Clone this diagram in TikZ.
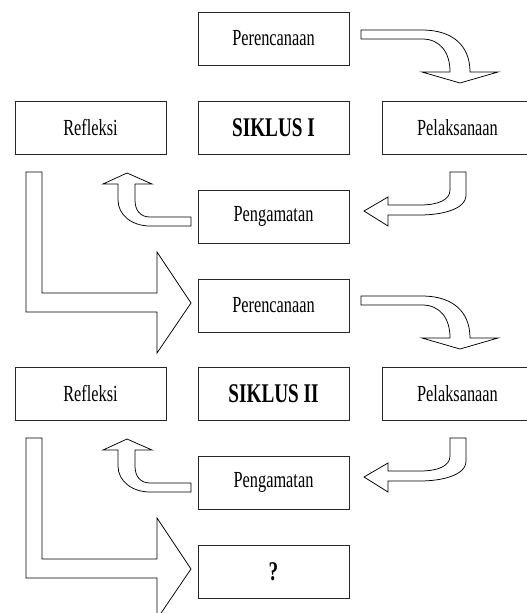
\documentclass[tikz,border=0pt]{standalone}
\usepackage{fontspec}
\newfontfamily\boxfont{Liberation Serif}[FakeStretch=0.71]
\begin{document}
\begin{tikzpicture}[x=1pt,y=-1pt,
  box/.style={draw=black!85,line width=0.9pt,minimum width=151pt,minimum height=53pt,inner sep=0pt,
    font=\boxfont\fontsize{23}{26}\selectfont},
  title/.style={box,font=\boxfont\fontsize{27}{30}\selectfont\bfseries},
  blockarrow/.style={draw=black,line width=0.75pt,line join=miter,fill=white}]
\useasboundingbox (0,0) rectangle (527,613);
\clip (0,0) rectangle (527,613);
% boxes
\node[box] (p1) at (273.5,38.5) {Perencanaan};
\node[box] (r1) at (90.5,127.5) {Refleksi};
\node[title] (s1) at (273.5,127.5) {SIKLUS I};
\node[box] (l1) at (457.5,127.5) {Pelaksanaan};
\node[box] (g1) at (273.5,216.5) {Pengamatan};
\node[box] (p2) at (273.5,305.5) {Perencanaan};
\node[box] (r2) at (90.5,393.5) {Refleksi};
\node[title] (s2) at (273.5,393.5) {SIKLUS II};
\node[box] (l2) at (457.5,393.5) {Pelaksanaan};
\node[box] (g2) at (273.5,482.5) {Pengamatan};
\node[title] (q) at (273.5,571.5) {?};
% block arrows, one set per cycle
\foreach \dy in {0,266}{
\begin{scope}[shift={(0,\dy)}]
 % Perencanaan -> Pelaksanaan
 \draw[blockarrow] (361,30) -- (422,30) .. controls (452,30) and (470,45) .. (470,72)
   -- (498,72) -- (460,83) -- (422,72) -- (450,72) .. controls (450,52) and (440,39) .. (422,39)
   -- (361,39) -- cycle;
 % Pelaksanaan -> Pengamatan
 \draw[blockarrow] (450,172) -- (466,172) -- (466,195) .. controls (466,210) and (440,215) .. (420,215)
   -- (388,215) -- (388,226) -- (364,211) -- (388,197) -- (388,205) -- (420,205)
   .. controls (438,205) and (450,200) .. (450,190) -- cycle;
 % Pengamatan -> Refleksi
 \draw[blockarrow] (191,217) -- (150,217) .. controls (140,217) and (135,210) .. (135,200)
   -- (135,184) -- (152,184) -- (127,173) -- (103,184) -- (118,184) -- (118,200)
   .. controls (118,215) and (132,226) .. (150,226) -- (191,226) -- cycle;
 % Refleksi -> next cycle
 \draw[blockarrow] (26,172) -- (42,172) -- (42,293) -- (157,293) -- (157,252) -- (191,303)
   -- (157,353) -- (157,312) -- (26,312) -- cycle;
\end{scope}}
\end{tikzpicture}
\end{document}
